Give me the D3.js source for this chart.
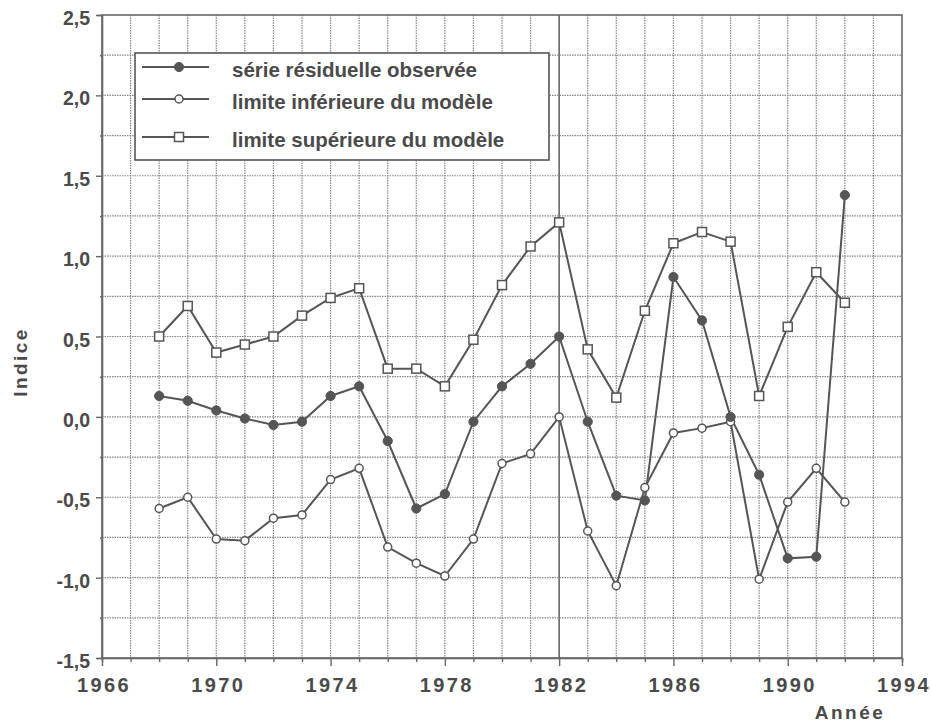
<!DOCTYPE html>
<html>
<head>
<meta charset="utf-8">
<script src="https://cdn.jsdelivr.net/npm/d3@7"></script>
<style>
  html, body { margin: 0; padding: 0; background: #fff; }
  svg { display: block; }
  text { font-family: Arial, "Liberation Sans", Helvetica, sans-serif; font-weight: bold; fill: #4a4a4a; }
</style>
</head>
<body>
<svg id="chart" width="931" height="727"></svg>
<script>
// Years of observation
const years = [1968, 1969, 1970, 1971, 1972, 1973, 1974, 1975, 1976, 1977, 1978, 1979,
               1980, 1981, 1982, 1983, 1984, 1985, 1986, 1987, 1988, 1989, 1990, 1991, 1992];

// Observed residual series
const observed = [0.13, 0.10, 0.04, -0.01, -0.05, -0.03, 0.13, 0.19, -0.15, -0.57, -0.48, -0.03,
                  0.19, 0.33, 0.50, -0.03, -0.49, -0.52, 0.87, 0.60, 0.00, -0.36, -0.88, -0.87, 1.38];

// Lower bound of the model
const lowerBound = [-0.57, -0.50, -0.76, -0.77, -0.63, -0.61, -0.39, -0.32, -0.81, -0.91, -0.99, -0.76,
                    -0.29, -0.23, 0.00, -0.71, -1.05, -0.44, -0.10, -0.07, -0.03, -1.01, -0.53, -0.32, -0.53];

// Upper bound of the model
const upperBound = [0.50, 0.69, 0.40, 0.45, 0.50, 0.63, 0.74, 0.80, 0.30, 0.30, 0.19, 0.48,
                    0.82, 1.06, 1.21, 0.42, 0.12, 0.66, 1.08, 1.15, 1.09, 0.13, 0.56, 0.90, 0.71];

// Axis ticks and labels
const xTickLabels = [1966, 1970, 1974, 1978, 1982, 1986, 1990, 1994];
const yTickLabels = [-1.5, -1.0, -0.5, 0.0, 0.5, 1.0, 1.5, 2.0, 2.5];
const xDomain = [1966, 1994];
const yDomain = [-1.5, 2.5];

const legendLabels = ["série résiduelle observée", "limite inférieure du modèle", "limite supérieure du modèle"];

const svg = d3.select("#chart");
const m = { left: 102, right: 29, top: 15, bottom: 69 };
const W = 931, H = 727;

const x = d3.scaleLinear().domain(xDomain).range([m.left, W - m.right]);
const y = d3.scaleLinear().domain(yDomain).range([H - m.bottom, m.top]);

const fmt = v => d3.format(".1f")(v).replace(".", ",").replace("−", "-");

const ink = "#555";
const gridColor = "#858585";

// Grid: one vertical line per year, one horizontal line every 0,25
const g = svg.append("g");
const yearGrid = d3.range(xDomain[0] + 1, xDomain[1]);
const valGrid = d3.range(-1.25, 2.5, 0.25);

g.selectAll("line.vg").data(yearGrid).join("line")
  .attr("x1", d => x(d)).attr("x2", d => x(d))
  .attr("y1", y(yDomain[1])).attr("y2", y(yDomain[0]))
  .attr("stroke", d => d === 1982 ? "#666" : gridColor)
  .attr("stroke-width", d => d === 1982 ? 1.6 : 1.2)
  .attr("stroke-dasharray", d => d === 1982 ? null : "1.5,1");

g.selectAll("line.hg").data(valGrid).join("line")
  .attr("x1", x(xDomain[0])).attr("x2", x(xDomain[1]))
  .attr("y1", d => y(d)).attr("y2", d => y(d))
  .attr("stroke", gridColor)
  .attr("stroke-width", 1.2)
  .attr("stroke-dasharray", "1.5,1");

// Plot frame
svg.append("rect")
  .attr("x", x(xDomain[0])).attr("y", y(yDomain[1]))
  .attr("width", x(xDomain[1]) - x(xDomain[0]))
  .attr("height", y(yDomain[0]) - y(yDomain[1]))
  .attr("fill", "none").attr("stroke", "#666").attr("stroke-width", 1.6);

// X axis: minor ticks each year, major ticks at labelled years
const xAxis = d3.axisBottom(x)
  .tickValues(d3.range(xDomain[0], xDomain[1] + 1))
  .tickSize(4)
  .tickFormat("");
const xg = svg.append("g").attr("transform", `translate(0,${y(yDomain[0])})`).call(xAxis);
xg.select(".domain").attr("stroke", "#666").attr("stroke-width", 1.6);
xg.selectAll(".tick line").attr("stroke", "#666").attr("stroke-width", 1.4)
  .attr("y2", d => xTickLabels.includes(d) ? 8 : 4);

svg.append("g").selectAll("text").data(xTickLabels).join("text")
  .attr("x", d => x(d) + 2).attr("y", 692)
  .attr("text-anchor", "middle")
  .attr("font-size", 20)
  .attr("letter-spacing", 2.4)
  .text(d => d);

// Y axis: ticks every 0,25, labels every 0,5
const yAxis = d3.axisLeft(y)
  .tickValues(d3.range(-1.5, 2.51, 0.25))
  .tickSize(5)
  .tickFormat("");
const yg = svg.append("g").attr("transform", `translate(${x(xDomain[0])},0)`).call(yAxis);
yg.select(".domain").attr("stroke", "#666").attr("stroke-width", 1.6);
yg.selectAll(".tick line").attr("stroke", "#666").attr("stroke-width", 1.4)
  .attr("x2", d => Math.abs(d * 2 - Math.round(d * 2)) < 1e-6 ? -6 : -2);

svg.append("g").selectAll("text").data(yTickLabels).join("text")
  .attr("x", x(xDomain[0]) - 12).attr("y", d => y(d) + 10)
  .attr("text-anchor", "end")
  .attr("font-size", 19.5)
  .text(d => fmt(d));

// Axis titles
svg.append("text")
  .attr("transform", "translate(27,362) rotate(-90)")
  .attr("text-anchor", "middle")
  .attr("font-size", 19)
  .attr("letter-spacing", 2.4)
  .text("Indice");

svg.append("text")
  .attr("x", 850).attr("y", 719)
  .attr("text-anchor", "middle")
  .attr("font-size", 19)
  .attr("letter-spacing", 2.5)
  .text("Année");

// Series
const line = d3.line().x(d => x(d[0])).y(d => y(d[1]));
const series = [
  { values: observed, marker: "dot" },
  { values: lowerBound, marker: "circle" },
  { values: upperBound, marker: "square" }
];

function drawMarker(sel, kind) {
  if (kind === "dot") {
    sel.append("circle").attr("r", 4.6).attr("fill", ink).attr("stroke", ink).attr("stroke-width", 1);
  } else if (kind === "circle") {
    sel.append("circle").attr("r", 4).attr("fill", "#fff").attr("stroke", ink).attr("stroke-width", 1.5);
  } else {
    sel.append("rect").attr("x", -4.5).attr("y", -4.5).attr("width", 9).attr("height", 9)
      .attr("fill", "#fff").attr("stroke", ink).attr("stroke-width", 1.5);
  }
}

const seriesG = svg.append("g");
series.slice().reverse().forEach(s => {
  const pts = years.map((yr, i) => [yr, s.values[i]]);
  seriesG.append("path").datum(pts)
    .attr("d", line).attr("fill", "none")
    .attr("stroke", ink).attr("stroke-width", 2);
});
series.slice().reverse().forEach(s => {
  const pts = years.map((yr, i) => [yr, s.values[i]]);
  seriesG.append("g").selectAll("g").data(pts).join("g")
    .attr("transform", d => `translate(${x(d[0])},${y(d[1])})`)
    .each(function () { drawMarker(d3.select(this), s.marker); });
});

// Legend
const lg = svg.append("g");
lg.append("rect")
  .attr("x", 135).attr("y", 53).attr("width", 414).attr("height", 107)
  .attr("fill", "#fff").attr("stroke", "#555").attr("stroke-width", 1.6);
const rowsY = [67, 99, 137];
series.forEach((s, i) => {
  const row = lg.append("g");
  row.append("line").attr("x1", 142).attr("x2", 209).attr("y1", rowsY[i]).attr("y2", rowsY[i])
    .attr("stroke", ink).attr("stroke-width", 2);
  const mk = row.append("g").attr("transform", `translate(179,${rowsY[i]})`);
  drawMarker(mk, s.marker);
  row.append("text").attr("x", 232).attr("y", rowsY[i] + 10)
    .attr("font-size", 20.5).text(legendLabels[i]);
});
</script>
</body>
</html>
